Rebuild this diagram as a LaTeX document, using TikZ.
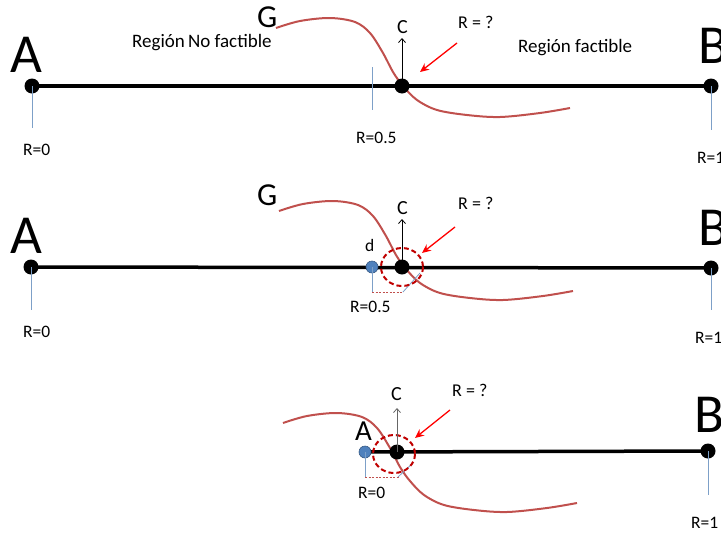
\documentclass[tikz,border=0pt]{standalone}
\usepackage{fontspec}
\setmainfont{Carlito}
\usetikzlibrary{arrows.meta,backgrounds}
\definecolor{curvecol}{RGB}{192,80,77}
\definecolor{ringcol}{RGB}{192,0,0}
\definecolor{ticcol}{RGB}{125,160,200}
\definecolor{bluedot}{RGB}{79,129,189}
\newcommand{\gcurvepath}{plot[smooth,tension=0.55] coordinates {(276,28) (300,21) (330,18) (355,22) (370,33) (383,53) (393,72) (403,86) (417,100) (437,110) (467,115) (500,117) (540,113) (570,108)}}
\begin{document}
\begin{tikzpicture}[x=1pt,y=-1pt,
  blackdot/.style={circle,fill=black,inner sep=0,minimum size=15pt},
  bluepoint/.style={circle,fill=bluedot,draw=bluedot!70!black,line width=0.6pt,inner sep=0,minimum size=12pt},
  mainline/.style={line width=3.5pt},
  tickline/.style={ticcol,line width=0.8pt},
  gcurve/.style={curvecol,line width=2pt},
  redarrow/.style={red,line width=1.3pt,-{Stealth[length=9pt,width=8pt]}},
  carrow/.style={line width=0.8pt,-{Straight Barb[length=4pt,width=7pt]}},
  ring/.style={ringcol,line width=2pt,dash pattern=on 5pt off 3pt},
  smalldash/.style={curvecol,line width=0.6pt,dash pattern=on 2pt off 1.5pt},
  biglabel/.style={font=\fontsize{55}{55}\selectfont,inner sep=0,anchor=base west},
  glabel/.style={font=\fontsize{32}{32}\selectfont,inner sep=0,anchor=base west},
  alabel/.style={font=\fontsize{29}{29}\selectfont,inner sep=0,anchor=base west},
  clabel/.style={font=\fontsize{20}{20}\selectfont,inner sep=0,anchor=base west},
  qlabel/.style={font=\fontsize{18}{18}\selectfont,inner sep=0,anchor=base west},
  rlabel/.style={font=\fontsize{17.5}{17.5}\selectfont,inner sep=0,anchor=base west},
  reglabel/.style={font=\fontsize{19}{19}\selectfont,inner sep=0,anchor=base west},
]
\useasboundingbox (0,0) rectangle (721,536);

% ---------------- Panel 1 ----------------
\node[blackdot] (A1) at (32,86) {};
\node[blackdot] (B1) at (711,86) {};
\node[blackdot] (C1) at (402,86) {};
\coordinate (T1a) at (372,67);
\coordinate (T1b) at (372,110);
\coordinate (A1low) at (32,128);
\coordinate (B1low) at (711,130);
\begin{pgfonlayer}{background}
  \draw[mainline] (A1.center) -- (B1.center);
  \draw[gcurve] \gcurvepath;
\end{pgfonlayer}
\draw[tickline] (A1.center) -- (A1low);
\draw[tickline] (B1.center) -- (B1low);
\draw[tickline] (T1a) -- (T1b);
\node[biglabel] (LA1) at (10,72) {A};
\node[biglabel] (LB1) at (698,63) {B};
\node[glabel] (LG1) at (257,27) {G};
\node[clabel] (LC1) at (397,33) {C};
\node[qlabel] (LQ1) at (458,28) {R = ?};
\node[reglabel] (RN1) at (132,47) {Región\,No factible};
\node[reglabel] (RF1) at (518,52) {Región factible};
\node[rlabel] (R01) at (23,155) {R=0};
\node[rlabel] (R51) at (356,143) {R=0.5};
\node[rlabel] (R11) at (697,163) {R=1};
\coordinate (C1top) at (402,38);
\draw[carrow] (C1.center) -- (C1top);
\coordinate (RA1s) at (457,43);
\coordinate (RA1e) at (420,72);
\draw[redarrow] (RA1s) -- (RA1e);

% ---------------- Panel 2 ----------------
\node[blackdot] (A2) at (31,267) {};
\node[blackdot] (B2) at (711,268) {};
\node[blackdot] (C2) at (402,267) {};
\coordinate (A2low) at (31,310);
\coordinate (B2low) at (711,310);
\begin{pgfonlayer}{background}
  \draw[mainline] (A2.center) -- (B2.center);
  \begin{scope}[shift={(3,183)}]
    \draw[gcurve] \gcurvepath;
  \end{scope}
\end{pgfonlayer}
\node[bluepoint] (D2) at (372,267) {};
\coordinate (D2low) at (372,292);
\coordinate (D2end) at (403,292);
\coordinate (D2rim) at (420,273);
\draw[tickline] (D2.center) -- (D2low);
\draw[smalldash] (D2low) -- (D2end);
\draw[tickline] (D2end) -- (D2rim);
\draw[ring] (C2.center) ellipse [x radius=21, y radius=19];
\draw[tickline] (A2.center) -- (A2low);
\draw[tickline] (B2.center) -- (B2low);
\node[biglabel] (LA2) at (10,253) {A};
\node[biglabel] (LB2) at (698,245) {B};
\node[glabel] (LG2) at (257,205) {G};
\node[clabel] (LC2) at (397,214) {C};
\node[qlabel] (LQ2) at (458,209) {R = ?};
\node[rlabel] (Ld2) at (365,251) {d};
\node[rlabel] (R02) at (23,337) {R=0};
\node[rlabel] (R52) at (350,312) {R=0.5};
\node[rlabel] (R12) at (695,343) {R=1};
\coordinate (C2top) at (402,219);
\draw[carrow] (C2.center) -- (C2top);
\coordinate (RA2s) at (455,227);
\coordinate (RA2e) at (422,253);
\draw[redarrow] (RA2s) -- (RA2e);

% ---------------- Panel 3 ----------------
\node[bluepoint] (A3) at (365,452) {};
\node[blackdot] (C3) at (397,452) {};
\node[blackdot] (B3) at (708,451) {};
\coordinate (B3low) at (708,495);
\begin{pgfonlayer}{background}
  \begin{scope}[shift={(7,395)}]
    \draw[gcurve] \gcurvepath;
  \end{scope}
  \draw[mainline] (A3.center) -- (B3.center);
\end{pgfonlayer}
\coordinate (A3low) at (365,477);
\coordinate (A3end) at (400,477);
\coordinate (A3diag) at (398,477);
\coordinate (A3rim) at (413,463);
\coordinate (Ring3) at (394,454);
\draw[tickline] (A3.center) -- (A3low);
\draw[smalldash] (A3low) -- (A3end);
\draw[tickline] (A3diag) -- (A3rim);
\draw[ring] (Ring3) ellipse [x radius=21, y radius=19];
\draw[tickline] (B3.center) -- (B3low);
\node[alabel] (LA3) at (355,440) {A};
\node[biglabel] (LB3) at (694,432) {B};
\node[clabel] (LC3) at (391,400) {C};
\node[qlabel] (LQ3) at (452,396) {R = ?};
\node[rlabel] (R03) at (358,498) {R=0};
\node[rlabel] (R13) at (691,528) {R=1};
\coordinate (C3top) at (397,408);
\draw[carrow,black!60] (C3.center) -- (C3top);
\coordinate (RA3s) at (450,410);
\coordinate (RA3e) at (415,438);
\draw[redarrow] (RA3s) -- (RA3e);
\end{tikzpicture}
\end{document}
